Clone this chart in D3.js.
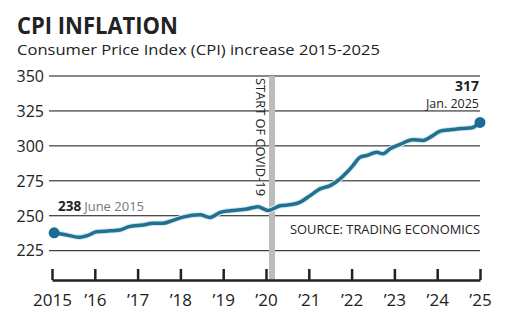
<!DOCTYPE html>
<html>
<head>
<meta charset="utf-8">
<script src="https://cdn.jsdelivr.net/npm/d3@7"></script>
<style>
  body { margin: 0; background: #fff; }
  text { font-family: "Open Sans", "Noto Sans", sans-serif; fill: #222; }
</style>
</head>
<body>
<svg id="chart"></svg>
<script>
// CPI readings (decimal year, index value)
const dates = [2015.05, 2015.34, 2015.62, 2015.84, 2016.04, 2016.36, 2016.59, 2016.8,
    2017.13, 2017.36, 2017.59, 2017.8, 2018.06, 2018.46, 2018.69, 2018.93,
    2019.16, 2019.55, 2019.81, 2020.05, 2020.33, 2020.6, 2020.8, 2021.03,
    2021.26, 2021.5, 2021.73, 2021.89, 2022.03, 2022.2, 2022.35, 2022.59,
    2022.73, 2022.9, 2023.13, 2023.43, 2023.67, 2023.87, 2024.07, 2024.3,
    2024.6, 2024.81, 2025.0];
const cpi = [237.8, 236.3, 234.6, 236.0, 238.5, 239.2, 239.8, 242.2,
    243.4, 244.6, 244.6, 246.4, 249.0, 250.7, 248.8, 252.4,
    253.6, 254.8, 256.4, 253.8, 257.2, 258.0, 259.8, 264.4,
    269.2, 271.6, 276.4, 281.1, 285.9, 291.9, 293.1, 295.5,
    294.3, 297.9, 301.0, 304.4, 303.9, 306.8, 310.6, 311.6,
    312.5, 313.0, 316.8];

const yTicks = [225, 250, 275, 300, 325, 350];
const xTicks = [2015, 2016, 2017, 2018, 2019, 2020, 2021, 2022, 2023, 2024, 2025];
const xTickLabels = ["2015", "’16", "’17", "’18", "’19", "’20", "’21", "’22", "’23", "’24", "’25"];
const covidStart = [2020.07, 2020.21];

const W = 512, H = 322;
const svg = d3.select("#chart").attr("width", W).attr("height", H);

const x = d3.scaleLinear().domain([2015, 2025]).range([52, 480]);
const y = d3.scaleLinear().domain([225, 350]).range([250.7, 76]);

// Title block
svg.append("text")
    .attr("x", 17).attr("y", 33.5)
    .attr("font-size", 22.5).attr("font-weight", 700)
    .attr("textLength", 161).attr("lengthAdjust", "spacingAndGlyphs")
    .text("CPI INFLATION");
svg.append("text")
    .attr("x", 17).attr("y", 54.5)
    .attr("font-size", 15)
    .attr("textLength", 363).attr("lengthAdjust", "spacingAndGlyphs")
    .text("Consumer Price Index (CPI) increase 2015-2025");

// Gridlines
svg.append("g")
    .selectAll("line")
    .data(yTicks)
    .join("line")
    .attr("x1", 49).attr("x2", 480)
    .attr("y1", d => y(d)).attr("y2", d => y(d))
    .attr("stroke", "#111").attr("stroke-width", 1);

// Y labels
svg.append("g")
    .selectAll("text")
    .data(yTicks)
    .join("text")
    .attr("x", 44).attr("y", d => y(d))
    .attr("dy", "0.36em")
    .attr("text-anchor", "end")
    .attr("font-size", 16)
    .text(d => d);

// COVID marker
svg.append("rect")
    .attr("x", x(covidStart[0]))
    .attr("width", x(covidStart[1]) - x(covidStart[0]))
    .attr("y", y(350)).attr("height", 280 - y(350))
    .attr("fill", "#bcbcbc");
svg.append("text")
    .attr("transform", "translate(" + (x(covidStart[0]) - 13) + "," + (y(350) + 2) + ") rotate(90)")
    .attr("font-size", 13)
    .attr("textLength", 118).attr("lengthAdjust", "spacingAndGlyphs")
    .text("START OF COVID-19");

// X axis
const xAxis = svg.append("g")
    .attr("transform", "translate(0,280)")
    .call(d3.axisBottom(x).tickValues(xTicks).tickSize(-11).tickSizeOuter(0).tickFormat((d, i) => xTickLabels[i]));
xAxis.select(".domain").attr("stroke", "#222").attr("stroke-width", 2.5);
xAxis.selectAll(".tick line").attr("stroke", "#222").attr("stroke-width", 2.5);
xAxis.selectAll(".tick text")
    .attr("y", 14).attr("dy", "0.71em")
    .attr("font-size", 17)
    .attr("font-family", "'Open Sans', sans-serif")
    .attr("fill", "#222");

// Series line
const line = d3.line()
    .curve(d3.curveMonotoneX)
    .x((d, i) => x(dates[i]))
    .y(d => y(d));

svg.append("path")
    .datum(cpi)
    .attr("d", line)
    .attr("fill", "none")
    .attr("stroke", "#cfe9f2")
    .attr("stroke-width", 5.5)
    .attr("stroke-linejoin", "round");
svg.append("path")
    .datum(cpi)
    .attr("d", line)
    .attr("fill", "none")
    .attr("stroke", "#22708e")
    .attr("stroke-width", 3.5)
    .attr("stroke-linejoin", "round")
    .attr("stroke-linecap", "round");

const ends = [0, cpi.length - 1];
svg.selectAll("circle.end")
    .data(ends)
    .join("circle")
    .attr("class", "end")
    .attr("cx", i => x(dates[i]))
    .attr("cy", i => y(cpi[i]))
    .attr("r", 5.5)
    .attr("fill", "#1b6c94");

// Annotations
const first = svg.append("text").attr("x", 58).attr("y", 211);
first.append("tspan").attr("font-size", 13.5).attr("font-weight", 700).text("238");
first.append("tspan").attr("font-size", 13).attr("fill", "#777").attr("dx", 3).text("June 2015");

svg.append("text")
    .attr("x", 479).attr("y", 91)
    .attr("text-anchor", "end")
    .attr("font-size", 14).attr("font-weight", 700)
    .text("317");
svg.append("text")
    .attr("x", 479).attr("y", 107.5)
    .attr("text-anchor", "end")
    .attr("font-size", 12.5).attr("fill", "#777")
    .text("Jan. 2025");

svg.append("text")
    .attr("x", 480).attr("y", 234)
    .attr("text-anchor", "end")
    .attr("font-size", 12.5)
    .attr("textLength", 190).attr("lengthAdjust", "spacingAndGlyphs")
    .text("SOURCE: TRADING ECONOMICS");
</script>
</body>
</html>
